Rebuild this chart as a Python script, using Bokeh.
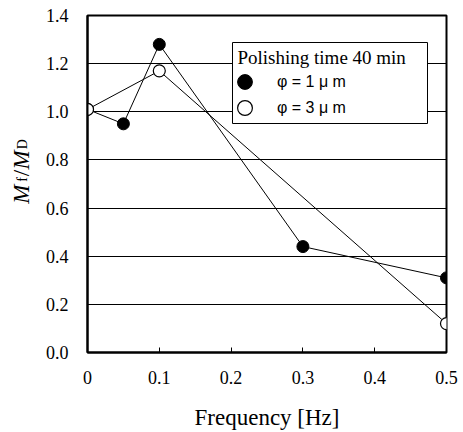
import math
from bokeh.plotting import figure
from bokeh.layouts import row
from bokeh.models import (FixedTicker, CustomJSTickFormatter, Legend, LegendItem,
                          Label, BoxAnnotation, Range1d)
from bokeh.embed import file_html
from bokeh.resources import INLINE

# ---- data ----
freq_1um = [0.0, 0.05, 0.1, 0.3, 0.5]
ratio_1um = [1.01, 0.95, 1.28, 0.44, 0.31]
freq_3um = [0.0, 0.1, 0.5]
ratio_3um = [1.01, 1.17, 0.12]

x_ticks = [0.0, 0.1, 0.2, 0.3, 0.4, 0.5]
x_tick_labels = ["0", "0.1", "0.2", "0.3", "0.4", "0.5"]
y_ticks = [0.0, 0.2, 0.4, 0.6, 0.8, 1.0, 1.2, 1.4]
y_tick_labels = ["0.0", "0.2", "0.4", "0.6", "0.8", "1.0", "1.2", "1.4"]

legend_title = "Polishing time 40 min"
label_1um = "φ = 1 μ m"
label_3um = "φ = 3 μ m"
x_title = "Frequency [Hz]"

SERIF = "Liberation Serif"
SANS = "Liberation Sans"

JS = """
let best = 0, d = Infinity;
for (let i = 0; i < tvals.length; i++) {
  const e = Math.abs(tvals[i] - tick);
  if (e < d) { d = e; best = i; }
}
return tlabs[best];
"""

LEFT_W = 40
W, H = 463, 432

# ---- narrow panel carrying the rotated y-axis title (M f / M D) ----
yt = figure(width=LEFT_W, height=H, output_backend="svg", toolbar_location=None,
            x_range=Range1d(0, LEFT_W), y_range=Range1d(0, H),
            min_border=0, x_axis_type=None, y_axis_type=None)
yt.outline_line_color = None
yt.grid.visible = False
yt.background_fill_color = "white"
yt.border_fill_color = "white"
parts = [("M", "italic", "23px", 21, 203), ("f", "normal", "14px", 22, 222),
         ("/", "normal", "23px", 21, 230), ("M", "italic", "23px", 21, 247),
         ("D", "normal", "14px", 22, 267)]
for txt, style, size, cx, cy in parts:
    yt.add_layout(Label(x=cx, y=cy, text=txt, text_font=SERIF,
                        text_font_style=style, text_font_size=size,
                        angle=math.pi / 2, text_align="center",
                        text_baseline="middle", text_color="black"))

# ---- main chart ----
p = figure(width=W - LEFT_W, height=H, output_backend="svg", toolbar_location=None,
           x_range=Range1d(0, 0.5), y_range=Range1d(0, 1.4),
           min_border_left=87 - LEFT_W, min_border_right=17, min_border_top=15,
           min_border_bottom=80)
p.background_fill_color = "white"
p.border_fill_color = "white"
p.outline_line_color = "black"
p.outline_line_width = 2

p.xaxis.ticker = FixedTicker(ticks=x_ticks)
p.xaxis.formatter = CustomJSTickFormatter(args=dict(tvals=x_ticks, tlabs=x_tick_labels), code=JS)
p.yaxis.ticker = FixedTicker(ticks=y_ticks)
p.yaxis.formatter = CustomJSTickFormatter(args=dict(tvals=y_ticks, tlabs=y_tick_labels), code=JS)

for ax in (p.xaxis[0], p.yaxis[0]):
    ax.axis_line_color = "black"
    ax.axis_line_width = 2
    ax.minor_tick_line_color = None
    ax.major_label_text_font = SERIF
    ax.major_label_text_font_style = "normal"
    ax.major_label_text_font_size = "18px"
    ax.major_label_text_color = "black"

p.xaxis.major_tick_in = 5
p.xaxis.major_tick_out = 0
p.xaxis.major_tick_line_color = "black"
p.xaxis.major_tick_line_width = 1
p.xaxis.major_label_standoff = 18
p.yaxis.major_tick_line_color = None
p.yaxis.major_tick_in = 0
p.yaxis.major_tick_out = 0
p.yaxis.major_label_standoff = 19

p.xaxis.axis_label = x_title
p.xaxis.axis_label_text_font = SERIF
p.xaxis.axis_label_text_font_size = "23px"
p.xaxis.axis_label_text_font_style = "normal"
p.xaxis.axis_label_text_color = "black"
p.xaxis.axis_label_standoff = 18

p.xgrid.grid_line_color = None
p.ygrid.grid_line_color = "black"
p.ygrid.grid_line_width = 1
p.ygrid.ticker = FixedTicker(ticks=y_ticks)

p.line(freq_1um, ratio_1um, line_color="black", line_width=1)
p.line(freq_3um, ratio_3um, line_color="black", line_width=1)
r1 = p.scatter(freq_1um, ratio_1um, marker="circle", size=12,
               fill_color="black", line_color="black", line_width=1)
r3 = p.scatter(freq_3um, ratio_3um, marker="circle", size=12,
               fill_color="white", line_color="black", line_width=1.2)

# legend box (frame-relative screen coordinates, y up)
box = BoxAnnotation(left=145, right=340, top=310, bottom=229,
                    left_units="screen", right_units="screen",
                    top_units="screen", bottom_units="screen",
                    fill_color="white", fill_alpha=1.0,
                    line_color="black", line_width=1, line_alpha=1.0)
p.add_layout(box)

common = dict(padding=0, margin=0, glyph_width=37, glyph_height=37,
              label_standoff=14, label_height=20,
              label_text_font=SANS, label_text_font_size="16px",
              label_text_color="black", border_line_color=None,
              background_fill_alpha=0.0)
p.add_layout(Legend(items=[LegendItem(label=label_1um, renderers=[r1])],
                    location=(139, 252), **common))
p.add_layout(Legend(items=[LegendItem(label=label_3um, renderers=[r3])],
                    location=(139, 226), **common))

p.add_layout(Label(x=150, y=295, x_units="screen", y_units="screen",
                   text=legend_title, text_font=SERIF, text_font_size="19px",
                   text_baseline="middle", text_align="left", text_color="black"))

layout = row(yt, p, spacing=0)
open("out.html", "w").write(file_html(layout, INLINE))
